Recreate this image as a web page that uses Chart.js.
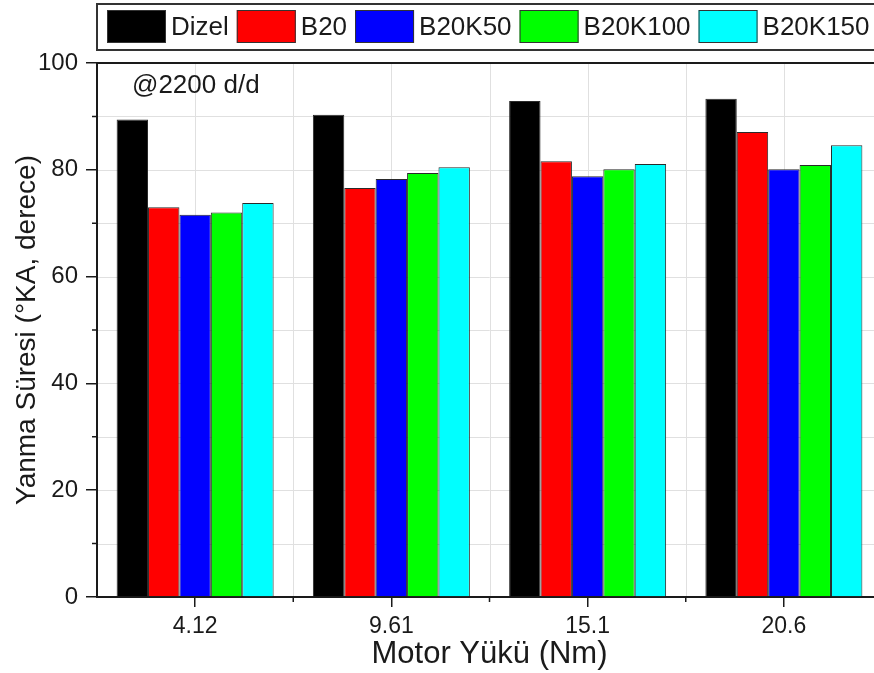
<!DOCTYPE html>
<html>
<head>
<meta charset="utf-8">
<title>Yanma Süresi</title>
<script src="https://cdn.jsdelivr.net/npm/chart.js@4.4.1/dist/chart.umd.min.js"></script>
<style>
    html, body { margin: 0; padding: 0; background: #fff; overflow: hidden; }
    #wrap { width: 874px; height: 673px; overflow: hidden; }
    #chart { display: block; }
</style>
</head>
<body>
<div id="wrap">
    <canvas id="chart" width="882" height="673" style="width:882px;height:673px"></canvas>
</div>
<script>
const categories = ['4.12', '9.61', '15.1', '20.6'];
const dizel   = [89.4, 90.3, 92.9, 93.3];
const b20     = [73.0, 76.6, 81.6, 87.1];
const b20k50  = [71.6, 78.3, 78.8, 80.1];
const b20k100 = [72.0, 79.4, 80.1, 80.9];
const b20k150 = [73.8, 80.5, 81.1, 84.6];
const yTicks  = [0, 20, 40, 60, 80, 100];
const yMinor  = [10, 30, 50, 70, 90];

const font = "'Liberation Sans', Arial, sans-serif";
const ink = '#1a1a1a';

// grid under the bars, frame, minor ticks, note and boxed legend on top
const framePlugin = {
    id: 'frame',
    beforeDraw(chart) {
        const { ctx, chartArea: area, scales: { x, y } } = chart;
        const step = x.getPixelForValue(1) - x.getPixelForValue(0);
        ctx.save();
        ctx.strokeStyle = '#e0e0e0';
        ctx.lineWidth = 1;
        ctx.beginPath();
        yTicks.concat(yMinor).forEach(v => {
            const py = Math.round(y.getPixelForValue(v)) + 0.5;
            ctx.moveTo(area.left, py);
            ctx.lineTo(area.right, py);
        });
        categories.forEach((c, i) => {
            const cx = x.getPixelForValue(i);
            [cx, cx + step / 2].forEach(px => {
                px = Math.round(px) + 0.5;
                ctx.moveTo(px, area.top);
                ctx.lineTo(px, area.bottom);
            });
        });
        ctx.stroke();
        ctx.restore();
    },
    afterDraw(chart) {
        const { ctx, chartArea: area, scales: { x, y } } = chart;
        const step = x.getPixelForValue(1) - x.getPixelForValue(0);
        ctx.save();

        // top and right frame
        ctx.strokeStyle = ink;
        ctx.lineWidth = 2;
        ctx.beginPath();
        ctx.moveTo(area.left, area.top);
        ctx.lineTo(area.right, area.top);
        ctx.lineTo(area.right, area.bottom);
        ctx.stroke();

        // minor ticks
        ctx.lineWidth = 1.5;
        ctx.beginPath();
        yMinor.forEach(v => {
            const py = y.getPixelForValue(v);
            ctx.moveTo(area.left - 5, py);
            ctx.lineTo(area.left, py);
        });
        categories.slice(0, -1).forEach((c, i) => {
            const px = x.getPixelForValue(i) + step / 2;
            ctx.moveTo(px, area.bottom);
            ctx.lineTo(px, area.bottom + 5);
        });
        ctx.stroke();

        // note
        ctx.fillStyle = ink;
        ctx.font = '26px ' + font;
        ctx.textBaseline = 'alphabetic';
        ctx.textAlign = 'left';
        ctx.fillText('@2200 d/d', 132, 93);

        // legend
        ctx.font = '26px ' + font;
        ctx.textBaseline = 'middle';
        let lx = 107;
        chart.data.datasets.forEach(ds => {
            ctx.fillStyle = ds.backgroundColor;
            ctx.fillRect(lx, 10, 59, 33);
            ctx.strokeStyle = '#333';
            ctx.lineWidth = 1;
            ctx.strokeRect(lx + 0.5, 10.5, 58, 32);
            lx += 59 + 5;
            ctx.fillStyle = ink;
            ctx.fillText(ds.label, lx, 28);
            lx += ctx.measureText(ds.label).width + 8;
        });
        ctx.strokeStyle = '#333';
        ctx.lineWidth = 2;
        ctx.strokeRect(97, 4, chart.width, 46);

        ctx.restore();
    }
};

document.addEventListener('DOMContentLoaded', function() {
    const ctx = document.getElementById('chart').getContext('2d');
    const chart = new Chart(ctx, {
        type: 'bar',
        data: {
            labels: categories,
            datasets: [
                { label: 'Dizel',   data: dizel,   backgroundColor: '#000000' },
                { label: 'B20',     data: b20,     backgroundColor: '#ff0000' },
                { label: 'B20K50',  data: b20k50,  backgroundColor: '#0000ff' },
                { label: 'B20K100', data: b20k100, backgroundColor: '#00ff00' },
                { label: 'B20K150', data: b20k150, backgroundColor: '#00ffff' }
            ]
        },
        options: {
            responsive: false,
            animation: false,
            devicePixelRatio: 1,
            layout: { padding: { top: 63, left: 0, right: 0, bottom: 0 } },
            datasets: {
                bar: {
                    categoryPercentage: 0.8,
                    barPercentage: 1.0,
                    borderWidth: 1,
                    borderColor: '#2a2a2a'
                }
            },
            plugins: {
                legend: { display: false },
                tooltip: { enabled: false }
            },
            scales: {
                x: {
                    grid: { offset: false, drawOnChartArea: false, tickLength: 10, color: ink, lineWidth: 1.5 },
                    border: { color: ink, width: 2 },
                    ticks: { color: ink, font: { family: font, size: 23 }, padding: 6, maxRotation: 0 },
                    title: {
                        display: true,
                        text: 'Motor Yükü (Nm)',
                        color: ink,
                        font: { family: font, size: 31 },
                        padding: { top: 0, bottom: 0 }
                    },
                    afterFit(scale) { scale.height = 76; }
                },
                y: {
                    min: 0,
                    max: 100,
                    afterBuildTicks(scale) { scale.ticks = yTicks.map(v => ({ value: v })); },
                    grid: { drawOnChartArea: false, tickLength: 11, color: ink, lineWidth: 1.5 },
                    border: { color: ink, width: 2 },
                    ticks: { color: ink, font: { family: font, size: 24 }, padding: 8 },
                    title: {
                        display: true,
                        text: 'Yanma Süresi (°KA, derece)',
                        color: ink,
                        font: { family: font, size: 28 },
                        padding: { top: 10, bottom: 0 }
                    },
                    afterFit(scale) { scale.width = 97; }
                }
            }
        },
        plugins: [framePlugin]
    });
});
</script>
</body>
</html>
